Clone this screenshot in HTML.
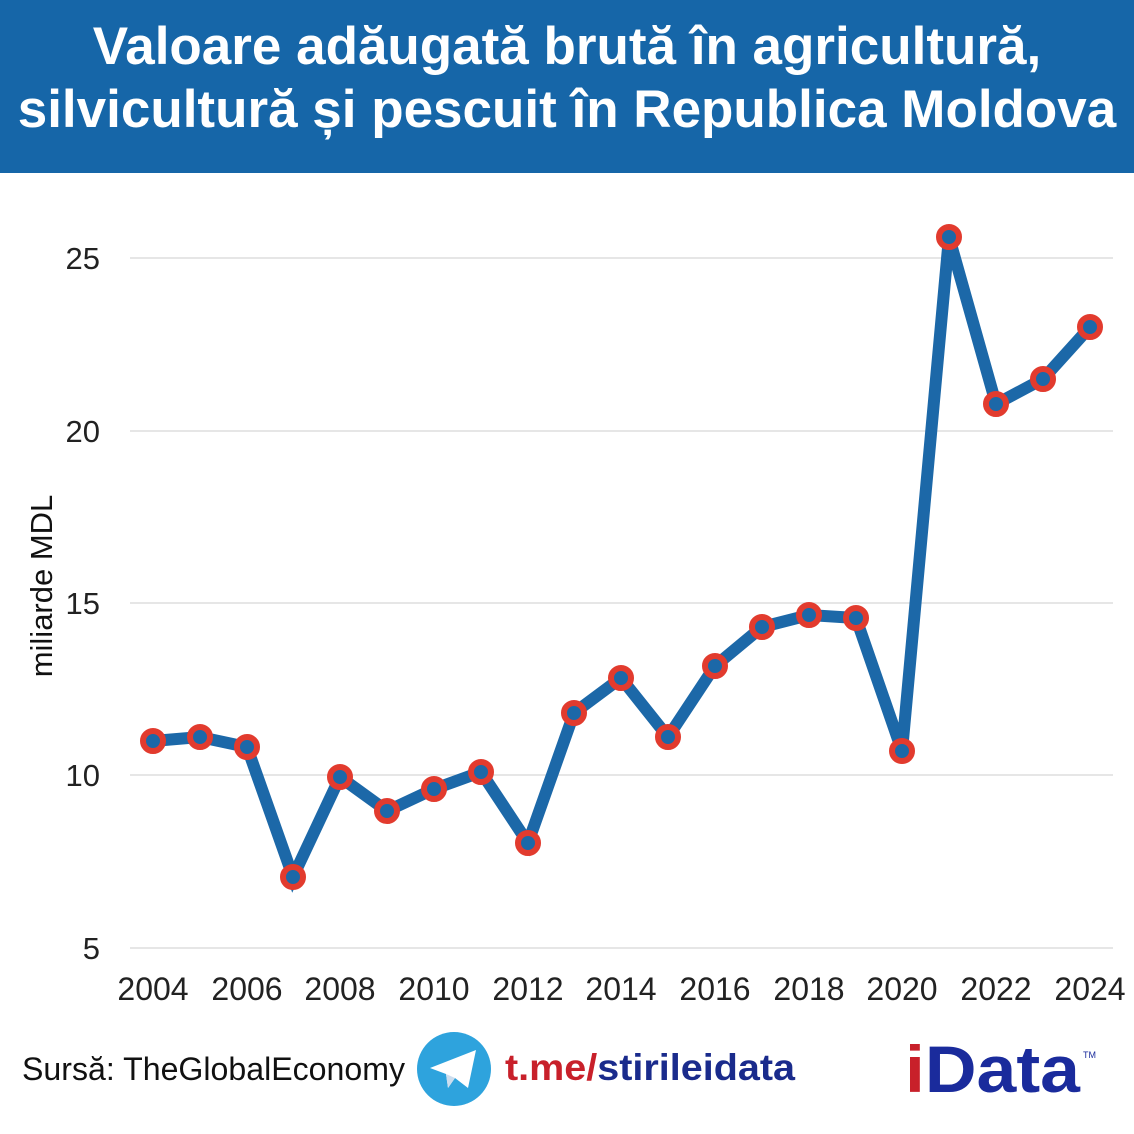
<!DOCTYPE html><html><head><meta charset="utf-8"><style>
body{margin:0;width:1134px;height:1134px;background:#fff;overflow:hidden;font-family:"Liberation Sans",sans-serif}
.h{position:absolute;left:0;top:0;width:1134px;height:173px;background:#1666a8;color:#fff;font-weight:bold;font-size:53px;text-align:center;line-height:63px;padding-top:15px;box-sizing:border-box;white-space:nowrap}
</style></head><body>
<div class="h">Valoare adăugată brută în agricultură,<br>silvicultură și pescuit în Republica Moldova</div>
<svg width="1134" height="1134" style="position:absolute;left:0;top:0">
<g stroke="#ddd" stroke-width="1.5">
<line x1="130" x2="1113" y1="258" y2="258"/><line x1="130" x2="1113" y1="431" y2="431"/><line x1="130" x2="1113" y1="603" y2="603"/><line x1="130" x2="1113" y1="775" y2="775"/><line x1="130" x2="1113" y1="948" y2="948"/></g>
<g font-size="31" fill="#222" text-anchor="end" font-family="Liberation Sans">
<text x="100" y="269">25</text><text x="100" y="442">20</text><text x="100" y="614">15</text><text x="100" y="786">10</text><text x="100" y="959">5</text></g>
<text transform="translate(52,586) rotate(-90)" font-size="31" fill="#111" text-anchor="middle">miliarde MDL</text>
<g font-size="32" fill="#222" text-anchor="middle">
<text x="153" y="1000">2004</text><text x="247" y="1000">2006</text><text x="340" y="1000">2008</text><text x="434" y="1000">2010</text><text x="528" y="1000">2012</text><text x="621" y="1000">2014</text><text x="715" y="1000">2016</text><text x="809" y="1000">2018</text><text x="902" y="1000">2020</text><text x="996" y="1000">2022</text><text x="1090" y="1000">2024</text></g>
<polyline fill="none" stroke="#1c68a8" stroke-width="12" stroke-linejoin="miter" points="153,741 200,737 247,747 293,877 340,777 387,811 434,789 481,772 528,843 574,713 621,678 668,737 715,666 762,627 809,615 856,618 902,751 949,237 996,404 1043,379 1090,327"/>
<g fill="#1c68a8" stroke="#e23b2e" stroke-width="6">
<circle cx="153" cy="741" r="10"/><circle cx="200" cy="737" r="10"/><circle cx="247" cy="747" r="10"/><circle cx="293" cy="877" r="10"/><circle cx="340" cy="777" r="10"/><circle cx="387" cy="811" r="10"/><circle cx="434" cy="789" r="10"/><circle cx="481" cy="772" r="10"/><circle cx="528" cy="843" r="10"/><circle cx="574" cy="713" r="10"/><circle cx="621" cy="678" r="10"/><circle cx="668" cy="737" r="10"/><circle cx="715" cy="666" r="10"/><circle cx="762" cy="627" r="10"/><circle cx="809" cy="615" r="10"/><circle cx="856" cy="618" r="10"/><circle cx="902" cy="751" r="10"/><circle cx="949" cy="237" r="10"/><circle cx="996" cy="404" r="10"/><circle cx="1043" cy="379" r="10"/><circle cx="1090" cy="327" r="10"/></g>
<text x="22" y="1080" font-size="32" fill="#111" textLength="383" lengthAdjust="spacingAndGlyphs">Sursă: TheGlobalEconomy</text>
<circle cx="454" cy="1069" r="37" fill="#2ea3dd"/>
<polygon points="430,1068 476,1050 468,1088 455,1078 448,1088 446,1074" fill="#fff"/>
<polygon points="446,1074 448,1088 455,1078" fill="#cde"/>
<text x="505" y="1080" font-size="37" font-weight="bold" textLength="290" lengthAdjust="spacingAndGlyphs"><tspan fill="#c8202a">t.me/</tspan><tspan fill="#1a2b8c">stirileidata</tspan></text>
<text x="905" y="1092" font-size="66" font-weight="bold" textLength="175" lengthAdjust="spacingAndGlyphs"><tspan fill="#c8202a">i</tspan><tspan fill="#1a2b9c">Data</tspan></text>
<text x="1083" y="1058" font-size="9" fill="#1a2b9c">TM</text>
</svg></body></html>
